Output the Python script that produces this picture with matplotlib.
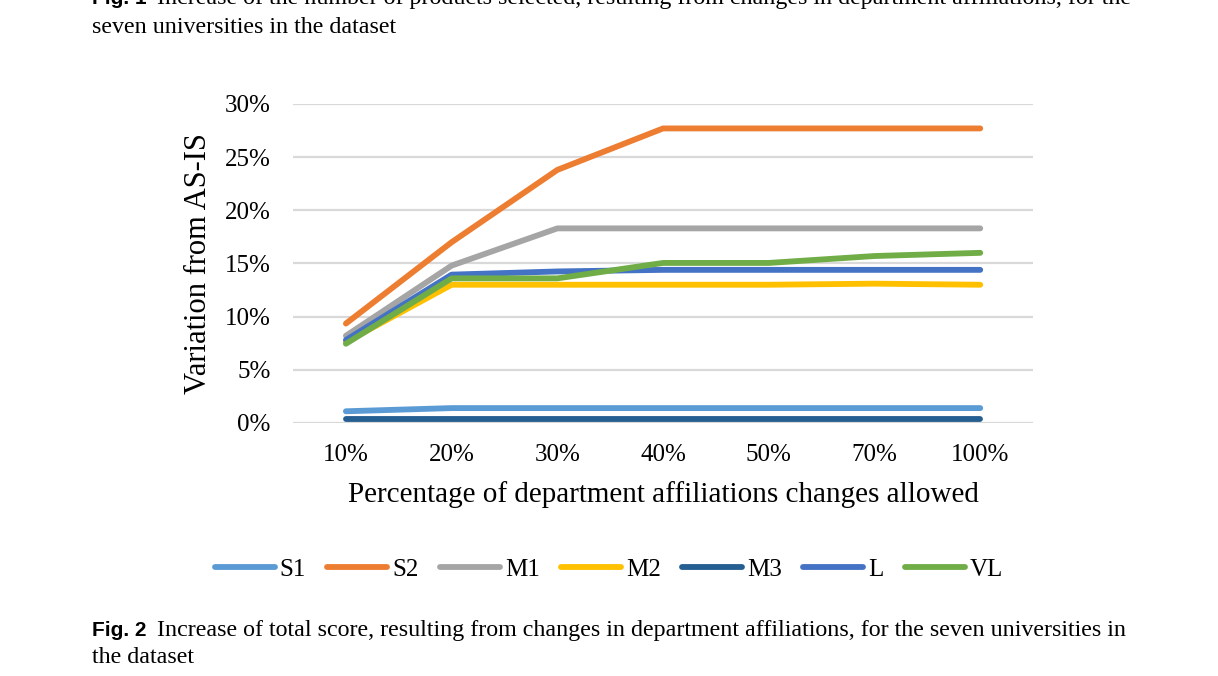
import matplotlib
matplotlib.use("Agg")
import matplotlib.pyplot as plt
from matplotlib.ticker import PercentFormatter

# data (values in %)
categories = ["10%", "20%", "30%", "40%", "50%", "70%", "100%"]
series_names = ["S1", "S2", "M1", "M2", "M3", "L", "VL"]
s1 = [1.1, 1.4, 1.4, 1.4, 1.4, 1.4, 1.4]
s2 = [9.35, 17.0, 23.8, 27.7, 27.7, 27.7, 27.7]
m1 = [8.2, 14.8, 18.3, 18.3, 18.3, 18.3, 18.3]
m2 = [7.6, 13.0, 13.0, 13.0, 13.0, 13.1, 13.0]
m3 = [0.4, 0.4, 0.4, 0.4, 0.4, 0.4, 0.4]
l_vals = [7.8, 13.95, 14.25, 14.4, 14.4, 14.4, 14.4]
vl = [7.45, 13.6, 13.6, 15.05, 15.05, 15.7, 16.0]
yticks = [0, 5, 10, 15, 20, 25, 30]

colors = ["#5B9BD5", "#ED7D31", "#A5A5A5", "#FFC000", "#255E91", "#4472C4", "#70AD47"]
all_series = [s1, s2, m1, m2, m3, l_vals, vl]

plt.rcParams["font.family"] = ["Liberation Serif", "DejaVu Serif"]

fig = plt.figure(figsize=(12.18, 6.76), dpi=100)
ax = fig.add_axes([0.2406, 0.3743, 0.6076, 0.4719])

x = list(range(len(categories)))
lines = []
for name, vals, c in zip(series_names, all_series, colors):
    ln, = ax.plot(x, vals, color=c, lw=4.2, solid_capstyle="round",
                  solid_joinstyle="round", label=name)
    lines.append(ln)

ax.set_xlim(-0.5, len(categories) - 0.5)
ax.set_ylim(0, 30)
ax.set_yticks(yticks)
ax.yaxis.set_major_formatter(PercentFormatter(decimals=0))
ax.set_xticks(x)
ax.set_xticklabels(categories)
ax.grid(axis="y", color="#D9D9D9", lw=1.6)
ax.set_axisbelow(True)
for sp in ax.spines.values():
    sp.set_visible(False)
ax.tick_params(length=0, labelsize=18, colors="black")
ax.tick_params(axis="x", pad=15)
ax.tick_params(axis="y", pad=16)

ax.set_ylabel("Variation from AS-IS", fontsize=22, va="center")
ax.yaxis.set_label_coords(-0.128, 0.5)
ax.set_xlabel("Percentage of department affiliations changes allowed", fontsize=21, va="center")
ax.xaxis.set_label_coords(0.5, -0.223)

fig.legend(handles=lines, loc="center", bbox_to_anchor=(0.5, 0.157), ncol=7,
           frameon=False, fontsize=18, handlelength=2.4, handletextpad=0.2,
           columnspacing=0.85)

# captions (the top one is cut off by the page edge, as in the source)
fig.text(0.0755, 1.0015, "Fig. 1", fontsize=15, fontweight="bold", family="Liberation Sans",
         va="center")
fig.text(0.1289, 1.0015, "Increase of the number of products selected, resulting from changes in "
         "department affiliations, for the", fontsize=17.3, va="center")
fig.text(0.0755, 0.960, "seven universities in the dataset", fontsize=17.3, va="center")

fig.text(0.0755, 0.068, "Fig. 2", fontsize=15, fontweight="bold", family="Liberation Sans",
         va="center")
fig.text(0.1289, 0.068, "Increase of total score, resulting from changes in department "
         "affiliations, for the seven universities in", fontsize=17.3, va="center")
fig.text(0.0755, 0.027, "the dataset", fontsize=17.3, va="center")

fig.savefig("out.png", dpi=100)
